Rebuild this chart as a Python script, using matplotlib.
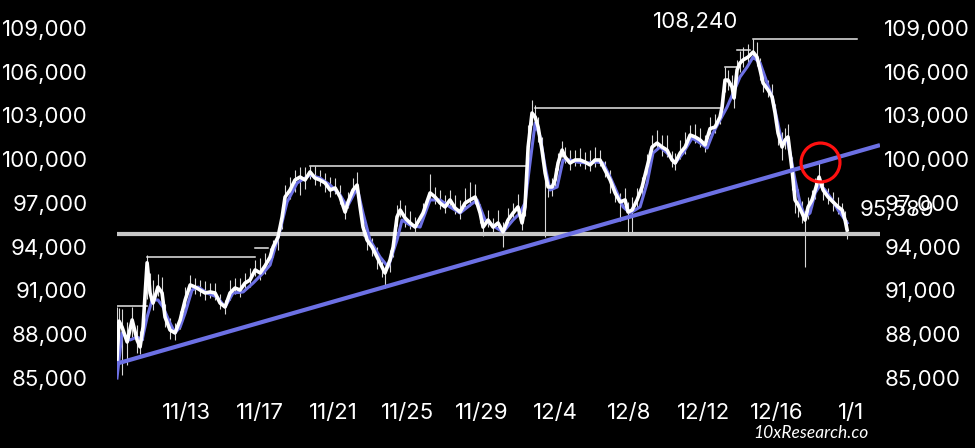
import matplotlib
matplotlib.use("Agg")
import matplotlib.pyplot as plt
import numpy as np

# ---------------- data ----------------
# time in days relative to the "11/13" tick
days = [-3.74, -3.63, -3.47, -3.19, -2.92, -2.65, -2.49, -2.33, -2.11, -1.95,
        -1.79, -1.52, -1.30, -1.14, -0.87, -0.60, -0.32, -0.05, 0.22, 0.49,
        0.76, 1.03, 1.30, 1.57, 1.84, 2.11, 2.38, 2.65, 2.92, 3.19,
        3.46, 3.74, 4.01, 4.28, 4.55, 4.71, 4.98, 5.20, 5.36, 5.63,
        5.90, 6.17, 6.44, 6.71, 6.98, 7.25, 7.53, 7.80, 8.07, 8.34,
        8.61, 8.77, 9.04, 9.26, 9.42, 9.58, 9.80, 10.07, 10.34, 10.61,
        10.77, 11.04, 11.21, 11.42, 11.59, 11.86, 12.13, 12.40, 12.83, 13.21,
        13.48, 13.75, 14.02, 14.29, 14.56, 14.83, 15.11, 15.38, 15.65, 15.92,
        16.08, 16.35, 16.62, 16.89, 17.16, 17.43, 17.70, 17.97, 18.19, 18.35,
        18.52, 18.73, 18.90, 19.06, 19.27, 19.44, 19.60, 19.82, 19.98, 20.14,
        20.36, 20.52, 20.79, 21.06, 21.33, 21.60, 21.87, 22.14, 22.41, 22.68,
        22.96, 23.23, 23.50, 23.77, 23.93, 24.15, 24.42, 24.69, 24.96, 25.23,
        25.50, 25.77, 26.04, 26.31, 26.48, 26.75, 27.02, 27.29, 27.56, 27.83,
        28.10, 28.37, 28.64, 28.91, 29.02, 29.18, 29.34, 29.56, 29.67, 29.83,
        29.99, 30.16, 30.43, 30.70, 30.91, 31.08, 31.24, 31.51, 31.73, 31.89,
        32.05, 32.27, 32.43, 32.59, 32.81, 32.97, 33.14, 33.35, 33.51, 33.68,
        33.89, 34.06, 34.27, 34.49, 34.76, 35.03, 35.30, 35.52, 35.68, 35.79]

price = [86300, 88900, 88500, 87470, 88980, 87600, 87130, 88500, 92900, 90830,
         90140, 91240, 90830, 89180, 88290, 88090, 88980, 90350, 91380, 91240,
         91030, 90830, 90900, 90830, 90140, 89870, 90830, 91170, 91030, 91510,
         91720, 92410, 92200, 92700, 93300, 93980, 94670, 96040, 97410, 97890,
         98580, 98780, 98580, 99130, 98710, 98580, 98370, 97890, 98030, 97410,
         96380, 97070, 97890, 98230, 96730, 95350, 94460, 93980, 93300, 92610,
         92200, 93090, 93980, 96040, 96520, 95970, 95630, 95350, 96310, 97690,
         97410, 97000, 96730, 97210, 96660, 96380, 97000, 97210, 97410, 96310,
         95350, 95830, 95350, 95630, 95010, 95830, 96310, 96730, 95630, 96730,
         100840, 103170, 102900, 102210, 100630, 99060, 98100, 98100, 98580, 99740,
         100630, 100150, 99740, 99950, 99950, 99810, 99610, 99950, 99950, 99260,
         98580, 97690, 97070, 97210, 96380, 96520, 97210, 98100, 99470, 100840,
         101110, 100840, 100630, 99950, 99740, 100430, 100840, 101660, 101530, 101320,
         100980, 102100, 102210, 102900, 103580, 105430, 105430, 104950, 104200, 106120,
         106600, 106810, 107010, 107350, 107010, 106120, 105230, 104750, 104270, 103170,
         101800, 100840, 101320, 101530, 99260, 97210, 96860, 96310, 95830, 96730,
         97210, 97890, 98780, 97890, 97410, 97070, 96730, 96520, 95830, 95150]

wick_up = [3600, 900, 1200, 1400, 900, 1000, 1100, 1500, 500, 1400,
           1600, 900, 1100, 900, 800, 700, 600, 900, 700, 600,
           700, 800, 600, 700, 600, 500, 900, 700, 800, 700,
           800, 700, 1000, 900, 600, 500, 600, 700, 800, 900,
           700, 700, 900, 400, 800, 700, 700, 900, 700, 800,
           600, 700, 800, 900, 700, 800, 700, 600, 700, 600,
           500, 700, 900, 800, 700, 900, 800, 700, 700, 1300,
           700, 900, 800, 700, 900, 800, 1000, 1200, 900, 600,
           600, 700, 600, 900, 700, 800, 700, 900, 600, 1200,
           1500, 900, 800, 700, 900, 700, 500, 600, 800, 700,
           600, 700, 900, 700, 800, 700, 1000, 900, 700, 600,
           700, 500, 600, 800, 700, 900, 800, 700, 900, 800,
           900, 800, 1000, 600, 700, 900, 1000, 700, 900, 800,
           700, 800, 900, 600, 1000, 900, 700, 800, 900, 700,
           800, 900, 900, 890, 1000, 800, 900, 700, 900, 600,
           800, 1000, 800, 900, 900, 700, 1100, 800, 600, 700,
           700, 800, 1000, 700, 600, 700, 700, 500, 600, 700]

wick_dn = [700, 1800, 3300, 1600, 1200, 900, 500, 900, 2500, 700,
           500, 600, 800, 700, 600, 500, 600, 700, 500, 500,
           400, 500, 400, 500, 400, 500, 500, 400, 500, 400,
           500, 400, 500, 600, 500, 700, 900, 800, 700, 600,
           800, 1200, 600, 500, 500, 400, 600, 500, 400, 500,
           500, 400, 400, 500, 500, 600, 700, 600, 800, 700,
           1000, 800, 700, 600, 500, 600, 400, 500, 400, 500,
           500, 400, 400, 500, 400, 500, 400, 400, 500, 700,
           600, 500, 400, 400, 1000, 400, 500, 400, 500, 600,
           2500, 800, 900, 1000, 800, 4400, 700, 600, 500, 500,
           500, 400, 500, 400, 400, 500, 400, 500, 400, 500,
           900, 600, 1300, 700, 1400, 1600, 500, 600, 700, 500,
           500, 600, 500, 500, 500, 400, 500, 400, 400, 500,
           500, 400, 400, 500, 600, 800, 700, 600, 700, 800,
           600, 500, 400, 500, 600, 700, 600, 500, 500, 700,
           800, 900, 600, 900, 1400, 900, 800, 700, 3200, 800,
           500, 600, 400, 700, 500, 600, 500, 400, 600, 600]

ma_days = [-3.74, -3.47, -3.03, -2.65, -2.38, -2.11, -1.84, -1.52, -1.25, -0.87,
           -0.60, -0.32, -0.05, 0.32, 0.65, 1.14, 1.68, 2.11, 2.54, 3.09,
           3.63, 4.17, 4.55, 5.09, 5.47, 6.01, 6.71, 7.25, 7.80, 8.34,
           8.72, 9.26, 9.58, 9.96, 10.50, 10.94, 11.42, 11.69, 12.13, 12.67,
           13.21, 13.75, 14.29, 14.83, 15.38, 15.76, 16.19, 16.73, 17.16, 17.70,
           18.08, 18.35, 18.62, 18.90, 19.17, 19.44, 19.71, 20.09, 20.41, 20.79,
           21.17, 21.71, 22.25, 22.58, 22.96, 23.34, 23.66, 24.04, 24.58, 24.96,
           25.28, 25.66, 26.04, 26.48, 26.91, 27.40, 27.83, 28.21, 28.53, 28.91,
           29.29, 29.62, 29.99, 30.38, 30.70, 31.08, 31.46, 31.73, 32.00, 32.27,
           32.54, 32.70, 32.97, 33.24, 33.51, 33.78, 34.06, 34.33, 34.60, 34.98,
           35.30, 35.57, 35.79]
ma_price = [85000, 88090, 87610, 87810, 87610, 89180, 90350, 90350, 89870, 88770,
            88090, 88500, 89460, 91030, 91240, 90830, 90550, 89870, 90830, 90900,
            91510, 92200, 92750, 95150, 97070, 98370, 98920, 98710, 98230, 97550,
            96730, 98030, 96310, 94460, 93300, 92610, 94460, 95830, 95490, 95350,
            97210, 97210, 96730, 96310, 96860, 97210, 95830, 95350, 95010, 95830,
            96310, 97000, 99740, 102490, 101530, 99470, 97890, 98100, 99950, 99950,
            99810, 99740, 99810, 99740, 98780, 97690, 96730, 96310, 96730, 98370,
            100430, 100840, 100430, 99740, 100430, 101460, 101110, 100770, 101800, 102690,
            103580, 104540, 105640, 106330, 107010, 106600, 105230, 104270, 102690, 101110,
            101320, 100430, 98580, 97000, 96040, 96310, 97690, 98230, 97890, 97210,
            96520, 96040, 95630]

# running-high step levels
step_levels = [89940, 93320, 93910, 99540, 103500, 106330, 107490, 108240]
step_start = [-3.74, -2.11, 3.74, 6.71, 18.90, 29.18, 29.83, 30.70]
step_end = [-2.11, 3.74, 4.44, 18.52, 29.02, 29.83, 30.54, 36.33]

trend_days = [-3.74, 37.57]
trend_price = [85990, 100970]
support_level = 94900

tick_pos = [0, 4, 8, 12, 16, 20, 24, 28, 32, 36]
tick_labels = ["11/13", "11/17", "11/21", "11/25", "11/29", "12/4", "12/8",
               "12/12", "12/16", "1/1"]
y_ticks = [85000, 88000, 91000, 94000, 97000, 100000, 103000, 106000, 109000]

peak_label = (27.6, 109410, "108,240")
last_label = (38.5, 96520, "95,589")
circle_pt = (34.33, 99810)

# ---------------- plot ----------------
FONT = "Inter"
FS = 16
YLIM = (84177, 110920)
fig = plt.figure(figsize=(9.75, 4.48), dpi=100, facecolor="black")
ax = fig.add_axes([117 / 975, 1 - 390 / 448, (880 - 117) / 975, 390 / 448])
ax.set_facecolor("black")

d = np.array(days)
p = np.array(price)
ax.vlines(d, p - np.array(wick_dn), p + np.array(wick_up), color="#d8d8d8",
          lw=0.8, zorder=2)

ax.plot(trend_days, [support_level, support_level], color="#c8c8c8", lw=3.0,
        zorder=3, solid_capstyle="butt")
ax.plot(trend_days, trend_price, color="#6c70e4", lw=3.0, zorder=6,
        solid_capstyle="butt")

for lvl, s, e in zip(step_levels, step_start, step_end):
    ax.plot([s, e], [lvl, lvl], color="#e6e6e6", lw=1.1, zorder=3)

ax.plot(ma_days, ma_price, color="#6c70e4", lw=2.2, zorder=4)
ax.plot(d, p, color="white", lw=2.6, zorder=5, solid_joinstyle="round")

ax.plot([circle_pt[0]], [circle_pt[1]], marker="o", markersize=28,
        markerfacecolor="none", markeredgecolor="#ff1010", markeredgewidth=2.3,
        zorder=7)

ax.text(peak_label[0], peak_label[1], peak_label[2], color="white",
        fontsize=FS, family=FONT, ha="center", va="center")
ax.text(last_label[0], last_label[1], last_label[2], color="white",
        fontsize=FS, family=FONT, ha="center", va="center", clip_on=False,
        zorder=8)

ax.set_xlim(-3.74, 37.57)
ax.set_ylim(*YLIM)
ax.set_xticks(tick_pos)
ax.set_xticklabels(tick_labels, family=FONT)
ax.set_yticks(y_ticks)
ax.set_yticklabels([f"{v:,}" for v in y_ticks], family=FONT)
ax.tick_params(axis="both", length=0, colors="white", labelsize=FS)
ax.tick_params(axis="y", pad=21)
ax.tick_params(axis="x", pad=9)
for side in ax.spines.values():
    side.set_visible(False)

# right-hand axis with the same scale
ax2 = ax.twinx()
ax2.set_ylim(*YLIM)
ax2.set_yticks(y_ticks)
ax2.set_yticklabels([f"{v:,}" for v in y_ticks], family=FONT)
ax2.tick_params(axis="y", length=0, colors="white", labelsize=FS, pad=3)
for side in ax2.spines.values():
    side.set_visible(False)

fig.text(868 / 975, 1 - 433 / 448, "10xResearch.co", color="white",
         fontsize=12.5, family="Lato", style="italic", ha="right", va="center")

fig.savefig("out.png", dpi=100, facecolor="black")
